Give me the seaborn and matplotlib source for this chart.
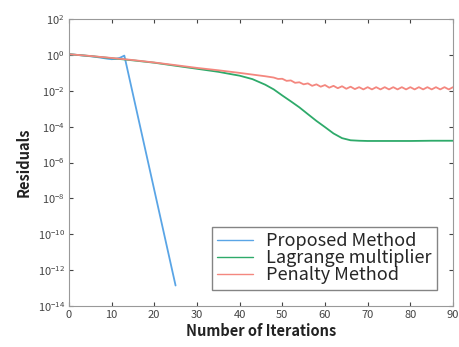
import matplotlib
matplotlib.use("Agg")
import matplotlib.pyplot as plt
import seaborn as sns
import pandas as pd
import numpy as np

# Proposed method
PROP_IT = [0, 3, 6, 9, 10, 11, 12, 13, 25]
PROP_RES = [1.1, 0.95, 0.8, 0.62, 0.58, 0.6, 0.7, 0.92, 1.4e-13]

# Lagrange multiplier
LAG_IT = [0, 5, 10, 15, 20, 25, 30, 35, 38, 40, 43, 46, 48, 50, 52, 54, 56, 58,
          60, 62, 64, 66, 68, 70, 75, 80, 85, 90]
LAG_RES = [1.1, 0.87, 0.66, 0.5, 0.37, 0.25, 0.17, 0.115, 0.085, 0.07, 0.045,
           0.022, 0.012, 5.5e-3, 2.6e-3, 1.2e-3, 5.0e-4, 2.1e-4, 9.5e-5, 4.2e-5,
           2.3e-5, 1.75e-5, 1.65e-5, 1.6e-5, 1.6e-5, 1.6e-5, 1.65e-5, 1.65e-5]

# Penalty method
PEN_IT = [0, 5, 10, 15, 20, 25, 30, 35, 40, 44, 46] + list(range(48, 91))
PEN_RES = [1.1, 0.88, 0.68, 0.52, 0.38, 0.27, 0.19, 0.14, 0.1, 0.075, 0.065,
           0.055, 0.046, 0.047, 0.036, 0.038, 0.028, 0.030, 0.023, 0.026, 0.019,
           0.023, 0.017, 0.021, 0.015, 0.019, 0.014, 0.018, 0.013, 0.017, 0.0125,
           0.016, 0.012, 0.016, 0.012, 0.016, 0.012, 0.016, 0.012, 0.016, 0.012,
           0.016, 0.012, 0.016, 0.012, 0.016, 0.012, 0.016, 0.012, 0.016, 0.012,
           0.016, 0.012, 0.016]

NAMES = ["Proposed Method", "Lagrange multiplier", "Penalty Method"]
COLORS = ["#5aa5e6", "#2eaa6a", "#f4877f"]


def main():
    sns.set_style("ticks")
    plt.rcParams["font.family"] = ["Noto Sans CJK JP", "DejaVu Sans"]
    plt.rcParams["mathtext.default"] = "regular"

    df = pd.concat([
        pd.DataFrame({"it": PROP_IT, "res": PROP_RES, "method": NAMES[0]}),
        pd.DataFrame({"it": LAG_IT, "res": LAG_RES, "method": NAMES[1]}),
        pd.DataFrame({"it": PEN_IT, "res": PEN_RES, "method": NAMES[2]}),
    ], ignore_index=True)

    fig = plt.figure(figsize=(4.59, 3.47), dpi=100)
    ax = fig.add_axes([0.150, 0.118, 0.837, 0.827])
    sns.lineplot(data=df, x="it", y="res", hue="method", palette=COLORS,
                 sort=False, estimator=None, linewidth=1.3, ax=ax)
    ax.set_yscale("log")
    ax.set_xlim(0, 90)
    ax.set_ylim(1e-14, 1e2)
    ax.set_xticks(range(0, 91, 10))
    ax.set_yticks([10.0 ** k for k in range(-14, 3, 2)])
    ax.minorticks_off()
    ax.tick_params(direction="in", length=3, labelsize=8, colors="#444444",
                   top=True, right=True, pad=3)
    for s in ax.spines.values():
        s.set_color("#999999")
    ax.set_xlabel("Number of Iterations", fontsize=10.5, fontweight="bold", color="#222222", labelpad=2)
    ax.set_ylabel("Residuals", fontsize=10.5, fontweight="bold", color="#222222", labelpad=4)

    leg = ax.legend(loc="lower right", fontsize=13, frameon=True, fancybox=False,
                    edgecolor="#666666", handlelength=2.0, borderaxespad=0.9,
                    labelspacing=-0.05, handletextpad=0.7, borderpad=0.3)
    leg.get_frame().set_linewidth(1.0)
    for line in leg.get_lines():
        line.set_linewidth(1.0)

    fig.savefig("out.png", dpi=100)


if __name__ == "__main__":
    main()
